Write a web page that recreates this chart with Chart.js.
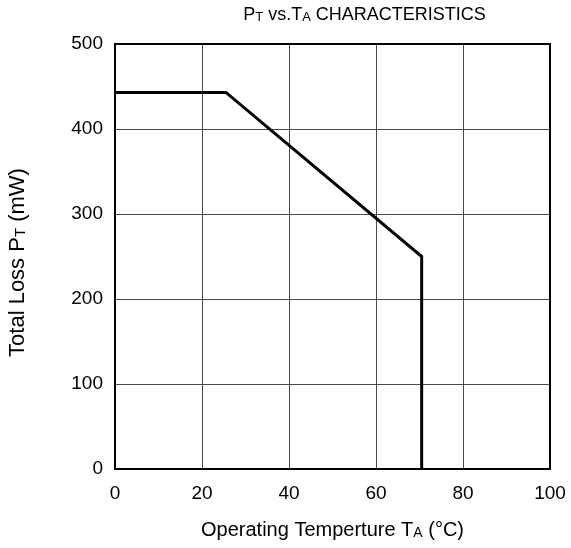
<!DOCTYPE html>
<html>
<head>
<meta charset="utf-8">
<script src="https://cdn.jsdelivr.net/npm/chart.js@4"></script>
<style>
  html, body { margin: 0; padding: 0; background: #fff; }
  #wrap { width: 571px; height: 548px; }
</style>
</head>
<body>
<div id="wrap"><canvas id="myLossChart"></canvas></div>
<script>
// values
const temps = [0, 25.5, 70.5, 70.5];
const losses = [443, 443, 250, 0];
const xTicks = [0, 20, 40, 60, 80, 100];
const yTicks = [0, 100, 200, 300, 400, 500];

// text pieces: [text, isSubscript]
const titleParts = [["P", false], ["T", true], [" vs.T", false], ["A", true], [" CHARACTERISTICS", false]];
const xTitleParts = [["Operating Temperture T", false], ["A", true], [" (°C)", false]];
const yTitleParts = [["Total Loss P", false], ["T", true], [" (mW)", false]];

const FONT = "'Liberation Sans', Arial, Helvetica, sans-serif";

const drawParts = (ctx, parts, cx, baseline, size) => {
  const big = `${size}px ${FONT}`;
  const small = `${Math.round(size * 0.7)}px ${FONT}`;
  let total = 0;
  parts.forEach(([t, sub]) => {
    ctx.font = sub ? small : big;
    total += ctx.measureText(t).width;
  });
  let x = cx - total / 2;
  ctx.textAlign = "left";
  ctx.textBaseline = "alphabetic";
  parts.forEach(([t, sub]) => {
    ctx.font = sub ? small : big;
    ctx.fillText(t, x, sub ? baseline + 1 : baseline);
    x += ctx.measureText(t).width;
  });
};

const framePlugin = {
  id: "frameAndTitles",
  afterDraw(chart) {
    const { ctx, chartArea } = chart;
    ctx.save();
    ctx.strokeStyle = "#000";
    ctx.lineWidth = 2;
    ctx.strokeRect(chartArea.left, chartArea.top, chartArea.right - chartArea.left, chartArea.bottom - chartArea.top);
    ctx.fillStyle = "#000";
    const cx = (chartArea.left + chartArea.right) / 2;
    // title sits a bit right of the plot centre in the original
    drawParts(ctx, titleParts, cx + 32, 20, 18);
    drawParts(ctx, xTitleParts, cx, 536, 20);
    ctx.translate(24, (chartArea.top + chartArea.bottom) / 2 + 6);
    ctx.rotate(-Math.PI / 2);
    drawParts(ctx, yTitleParts, 0, 0, 22);
    ctx.restore();
  },
};

const canvas = document.getElementById("myLossChart");
const ctx = canvas.getContext("2d");

const data = {
  datasets: [
    {
      label: "PT",
      data: temps.map((t, i) => ({ x: t, y: losses[i] })),
      showLine: true,
      borderColor: "#000",
      borderWidth: 3,
      pointRadius: 0,
      fill: false,
      tension: 0,
    },
  ],
};

const options = {
  responsive: true,
  maintainAspectRatio: false,
  animation: false,
  layout: { padding: { top: 44, right: 21, left: 0, bottom: 0 } },
  plugins: {
    legend: { display: false },
    tooltip: { enabled: false },
    title: { display: false },
  },
  scales: {
    x: {
      type: "linear",
      min: xTicks[0],
      max: xTicks[xTicks.length - 1],
      afterBuildTicks: (scale) => {
        scale.ticks = xTicks.map((v) => ({ value: v }));
      },
      afterFit: (scale) => {
        scale.height = 79;
        scale.paddingLeft = 0;
        scale.paddingRight = 0;
      },
      grid: { color: "#4a4a4a", lineWidth: 1, drawTicks: false },
      border: { display: false },
      ticks: { color: "#000", padding: 13, font: { family: FONT, size: 19 } },
    },
    y: {
      type: "linear",
      min: yTicks[0],
      max: yTicks[yTicks.length - 1],
      afterBuildTicks: (scale) => {
        scale.ticks = yTicks.map((v) => ({ value: v }));
      },
      afterFit: (scale) => {
        scale.width = 115;
        scale.paddingTop = 0;
        scale.paddingBottom = 0;
      },
      grid: { color: "#4a4a4a", lineWidth: 1, drawTicks: false },
      border: { display: false },
      ticks: { color: "#000", padding: 12, font: { family: FONT, size: 19 } },
    },
  },
};

const myLossChart = new Chart(ctx, {
  type: "scatter",
  data: data,
  options: options,
  plugins: [framePlugin],
});
</script>
</body>
</html>
